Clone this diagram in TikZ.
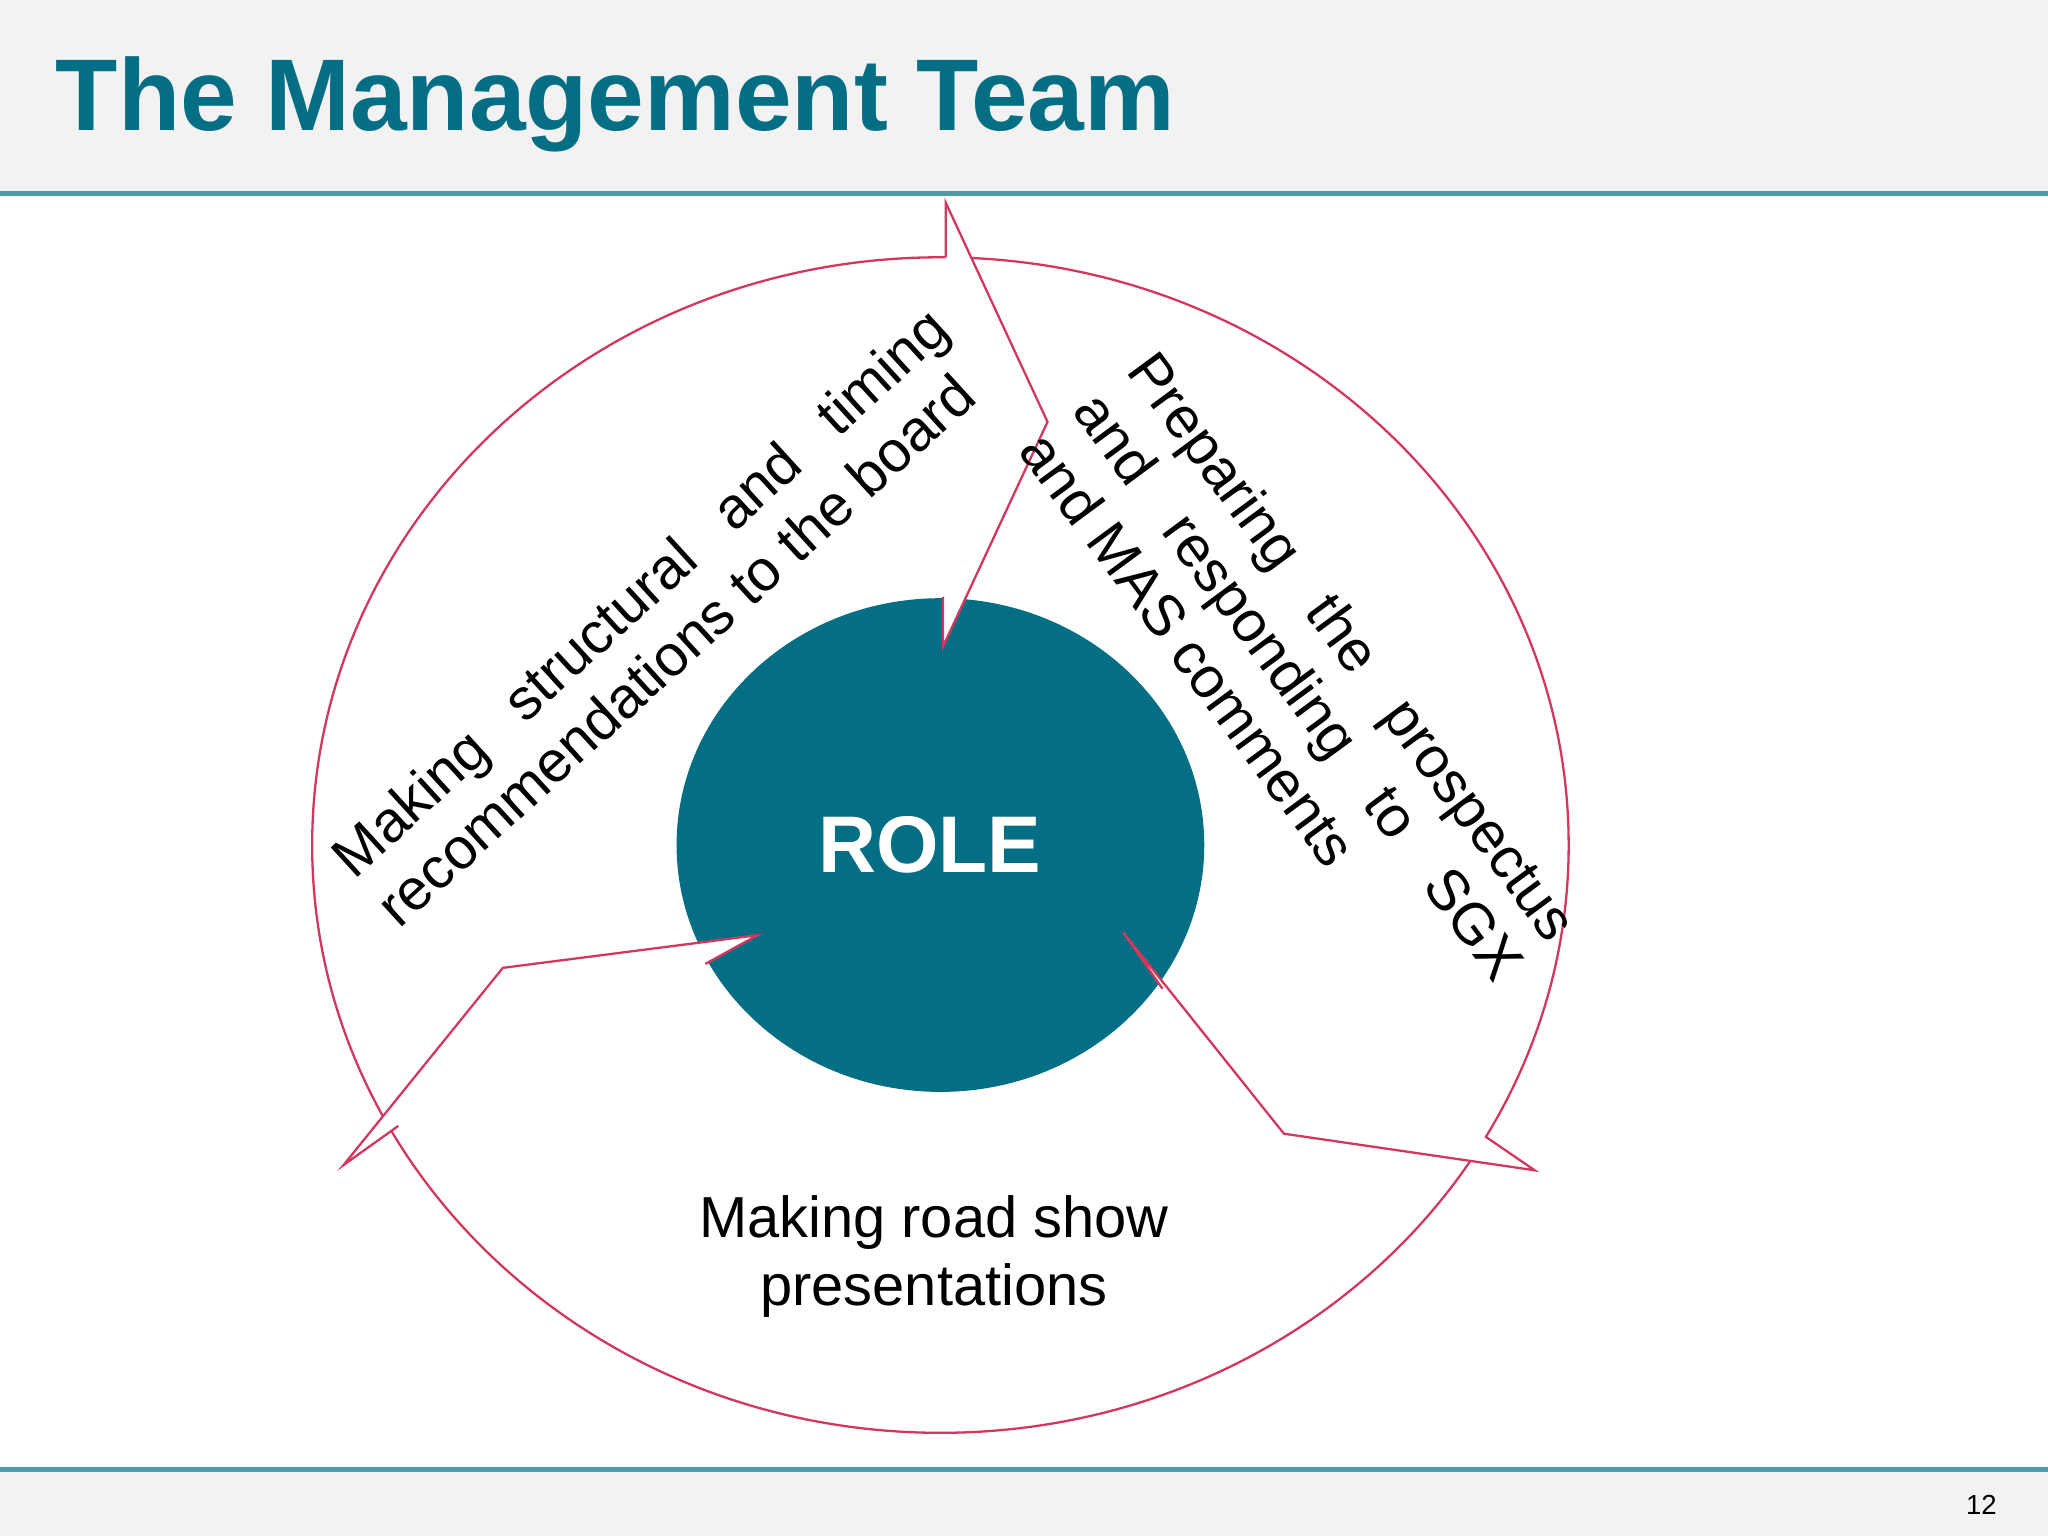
\documentclass[tikz,border=0pt]{standalone}
\usepackage{fontspec}
\setmainfont{Liberation Sans}
\usetikzlibrary{positioning,shapes.geometric}
\definecolor{teal}{HTML}{036E84}
\definecolor{rim}{HTML}{D2385E}
\definecolor{band}{HTML}{F2F2F3}
\tikzset{
  rimline/.style={draw=rim, line width=0.5pt},
  arrowpart/.style={rimline, fill=white, line join=miter},
  role/.style={font=\fontsize{17.5}{21}\selectfont\bfseries, text=white},
  label/.style={font=\fontsize{12.6}{14.6}\selectfont, align=justify},
}
\begin{document}
\begin{tikzpicture}
	\useasboundingbox (0,0) rectangle (15.68,-11.76);
	% header and footer
	\fill[band] (0,0) rectangle (15.68,-1.48);
	\draw[teal!70, line width=1.2pt] (0,-1.48) -- (15.68,-1.48);
	\fill[band] (0,-11.25) rectangle (15.68,-11.76);
	\draw[teal!70, line width=1.2pt] (0,-11.25) -- (15.68,-11.25);
	\node (title) [anchor=base west, text=teal, font=\fontsize{22.2}{26}\selectfont\bfseries, inner sep=0pt] at (0.42,-1.00) {The Management Team};
	\node (page) [font=\fontsize{6}{7}\selectfont] at (15.17,-11.52) {12};
	% circles
	\node (outer) [rimline, ellipse, minimum width=9.62cm, minimum height=9.0cm] at (7.20,-6.47) {};
	\fill[teal] (7.20,-6.47) ellipse [x radius=2.02cm, y radius=1.89cm];
	\node (role) [role] at (7.12,-6.47) {ROLE};
	% arrow heads
	\filldraw[arrowpart] (7.24,-1.97) -- (7.24,-1.55) -- (8.02,-3.23) -- (7.22,-4.95) -- (7.22,-4.57);
	\filldraw[arrowpart] (8.90,-7.57) -- (8.60,-7.14) -- (9.83,-8.68) -- (11.75,-8.96) -- (11.37,-8.70);
	\filldraw[arrowpart] (5.40,-7.38) -- (5.80,-7.16) -- (3.85,-7.41) -- (2.63,-8.92) -- (3.05,-8.62);
	% labels
	\node (board) [label, text width=6.2cm, rotate=42.4] at (5.07,-4.72) {Making structural and timing\linebreak recommendations to the board};
	\node (prosp) [label, text width=5.45cm, rotate=-53.6] at (9.95,-5.25) {Preparing the prospectus\linebreak and responding to SGX\linebreak and MAS comments};
	\node (road) [font=\fontsize{12.6}{15}\selectfont, align=center] at (7.15,-9.62) {Making road show\\presentations};
\end{tikzpicture}
\end{document}
